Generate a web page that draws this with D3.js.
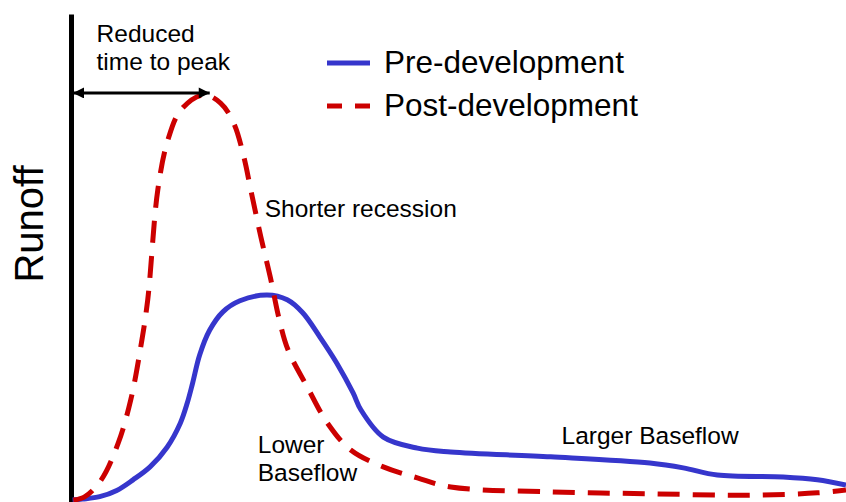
<!DOCTYPE html>
<html>
<head>
<meta charset="utf-8">
<script src="https://cdn.jsdelivr.net/npm/d3@7"></script>
<style>
  html, body { margin: 0; padding: 0; background: #fff; }
  svg { display: block; font-family: "Liberation Sans", Arial, sans-serif; }
</style>
</head>
<body>
<svg id="chart" width="846" height="502"></svg>
<script>
// ---- Data (time units 0..100, runoff units 0..100) ----
const preTime   = [0.2, 1.5, 3.7, 5.9, 8.0, 10.2, 12.4, 14.1, 15.0, 15.7, 16.6, 17.9, 19.6, 21.8, 25.3, 27.9, 29.9, 32.1, 34.3, 36.4, 37.4, 40.3, 44.7, 49.0, 61.9, 74.7, 79.0, 83.4, 91.9, 96.3, 100];
const preRunoff = [0.0, 0.2, 0.7, 2.0, 4.2, 6.9, 11.0, 16.0, 20.2, 24.4, 30.2, 35.4, 39.2, 41.5, 42.7, 41.7, 39.0, 34.0, 28.5, 22.3, 18.8, 13.1, 10.8, 10.0, 9.0, 7.7, 6.7, 5.2, 4.8, 4.2, 3.1];

const postTime   = [0.3, 1.7, 3.9, 6.1, 7.7, 9.0, 9.9, 11.2, 12.5, 14.2, 17.1, 19.3, 21.0, 22.3, 23.2, 24.5, 25.8, 26.8, 28.0, 30.5, 33.1, 36.1, 40.3, 44.7, 49.0, 61.9, 74.7, 87.6, 96.3, 100];
const postRunoff = [0.0, 0.6, 4.2, 11.9, 20.8, 31.9, 41.7, 64.6, 75.0, 81.3, 84.4, 82.7, 78.5, 71.5, 64.6, 54.8, 45.8, 38.1, 31.3, 23.5, 16.0, 10.4, 6.9, 4.6, 2.7, 1.7, 1.3, 1.0, 1.5, 2.1];

const seriesNames = ["Pre-development", "Post-development"];
const yAxisLabel = "Runoff";

// annotations: [text lines], time, runoff (anchor position of first baseline)
const annoText = [["Reduced", "time to peak"], ["Shorter recession"], ["Lower", "Baseflow"], ["Larger Baseflow"]];
const annoTime = [3.3, 25.0, 24.1, 63.3];
const annoRunoff = [95.5, 59.0, 9.8, 11.7];
const arrowTime = [0, 17.9];
const arrowRunoff = 84.8;

// ---- Layout ----
const svg = d3.select("#chart");
const x = d3.scaleLinear().domain([0, 100]).range([71, 846]);
const y = d3.scaleLinear().domain([0, 100]).range([500, 20]);

const blue = "#3636cc";
const red = "#cc0000";

// y axis (plain vertical bar, no ticks)
const yAxisScale = y.copy().domain([-0.4, 101.25]).range([502, 14]);
const axisG = svg.append("g")
  .attr("transform", `translate(${x(0)},0)`)
  .call(d3.axisLeft(yAxisScale).ticks(0).tickSizeOuter(0));
axisG.select(".domain").attr("stroke", "#000").attr("stroke-width", 5);

// axis label
svg.append("text")
  .attr("transform", `translate(43,${y(57.5)}) rotate(-90)`)
  .attr("text-anchor", "middle")
  .attr("font-size", 40)
  .attr("fill", "#000")
  .text(yAxisLabel);

const line = d3.line().x(d => x(d[0])).y(d => y(d[1])).curve(d3.curveCatmullRom.alpha(0.5));

const preData = preTime.map((t, i) => [t, preRunoff[i]]);
const postData = postTime.map((t, i) => [t, postRunoff[i]]);

svg.append("path")
  .datum(preData)
  .attr("d", line)
  .attr("fill", "none")
  .attr("stroke", blue)
  .attr("stroke-width", 5);

svg.append("path")
  .datum(postData)
  .attr("d", line)
  .attr("fill", "none")
  .attr("stroke", red)
  .attr("stroke-width", 5)
  .attr("stroke-dasharray", "22,13");

// arrow markers
const defs = svg.append("defs");
["start", "end"].forEach(k => {
  defs.append("marker")
    .attr("id", "arrow-" + k)
    .attr("viewBox", "0 0 10 10")
    .attr("refX", k === "end" ? 10 : 0)
    .attr("refY", 5)
    .attr("markerUnits", "userSpaceOnUse")
    .attr("markerWidth", 12)
    .attr("markerHeight", 11)
    .attr("orient", "auto")
    .append("path")
    .attr("d", k === "end" ? "M0,0 L10,5 L0,10 Z" : "M10,0 L0,5 L10,10 Z")
    .attr("fill", "#000");
});

svg.append("line")
  .attr("x1", x(arrowTime[0]) + 2)
  .attr("x2", x(arrowTime[1]))
  .attr("y1", y(arrowRunoff))
  .attr("y2", y(arrowRunoff))
  .attr("stroke", "#000")
  .attr("stroke-width", 3)
  .attr("marker-start", "url(#arrow-start)")
  .attr("marker-end", "url(#arrow-end)");

// annotations
annoText.forEach((lines, i) => {
  const t = svg.append("text")
    .attr("x", x(annoTime[i]))
    .attr("y", y(annoRunoff[i]))
    .attr("font-size", 24.5)
    .attr("fill", "#000");
  lines.forEach((s, j) => {
    t.append("tspan")
      .attr("x", x(annoTime[i]))
      .attr("dy", j === 0 ? 0 : 28.5)
      .text(s);
  });
});

// legend
const legend = svg.append("g").attr("transform", "translate(327,0)");
const legY = [63, 106];
seriesNames.forEach((name, i) => {
  legend.append("line")
    .attr("x1", 0).attr("x2", 43)
    .attr("y1", legY[i]).attr("y2", legY[i])
    .attr("stroke", i === 0 ? blue : red)
    .attr("stroke-width", 5)
    .attr("stroke-dasharray", i === 0 ? null : "15,13");
  legend.append("text")
    .attr("x", 57)
    .attr("y", legY[i] + 10)
    .attr("font-size", 31.5)
    .attr("fill", "#000")
    .text(name);
});
</script>
</body>
</html>
